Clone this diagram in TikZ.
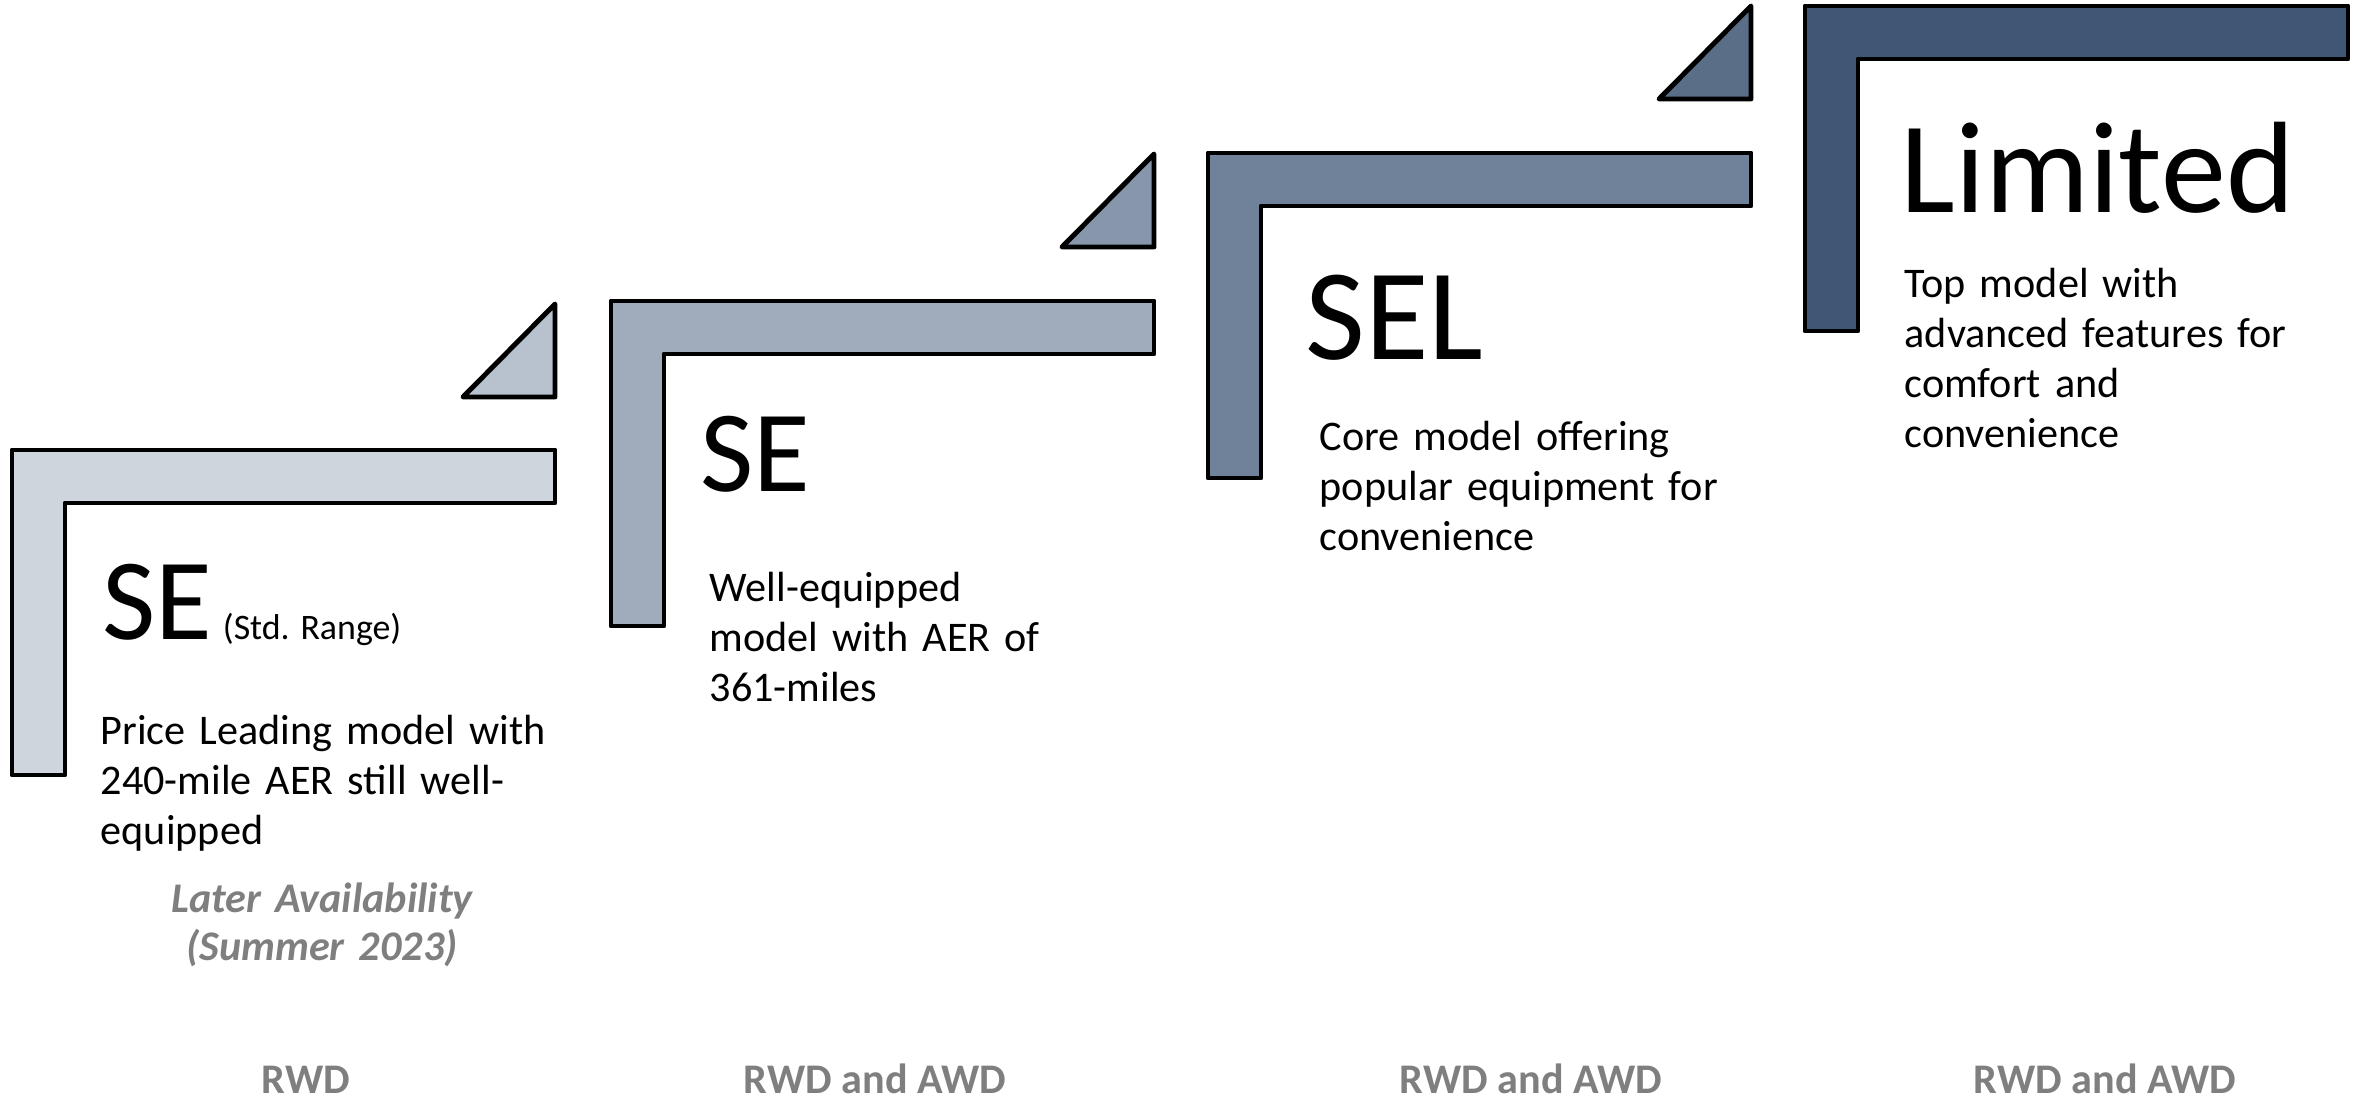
\documentclass[tikz,border=0pt]{standalone}
\usepackage{fontspec}
\setmainfont{Carlito}
\usetikzlibrary{positioning}
\definecolor{stepone}{HTML}{CFD5DD}
\definecolor{triaone}{HTML}{B8C2CE}
\definecolor{steptwo}{HTML}{A0ACBB}
\definecolor{triatwo}{HTML}{8796AA}
\definecolor{stepthree}{HTML}{6F829A}
\definecolor{triathree}{HTML}{5A6E88}
\definecolor{stepfour}{HTML}{3F5775}
\definecolor{drivegray}{HTML}{7F7F7F}

\begin{document}
\begin{tikzpicture}[x=0.01cm, y=-0.01cm,
    stairs/.style={draw=black, line width=1.4pt, line join=round},
    trimname/.style={anchor=base west, inner sep=0pt, font=\fontsize{33}{40}\selectfont},
    bigname/.style={anchor=base west, inner sep=0pt, font=\fontsize{37}{44}\selectfont},
    blurb/.style={anchor=base west, inner sep=0pt, text width=6cm, align=left, font=\fontsize{12}{14.2}\selectfont},
    drive/.style={anchor=base, inner sep=0pt, text depth=0pt, text=drivegray, font=\bfseries\fontsize{12}{14.2}\selectfont}]
    \useasboundingbox (0,0) rectangle (2359,1101);

    % Steps
    \draw [stairs, fill=stepone] (12,450) -- ++(543,0) -- ++(0,53) -- ++(-490,0) -- ++(0,272) -- ++(-53,0) -- cycle;
    \draw [stairs, fill=triaone] (463,397) -- (555,304) -- (555,397) -- cycle;
    \draw [stairs, fill=steptwo] (611,301) -- ++(543,0) -- ++(0,53) -- ++(-490,0) -- ++(0,272) -- ++(-53,0) -- cycle;
    \draw [stairs, fill=triatwo] (1062,247) -- (1154,154) -- (1154,247) -- cycle;
    \draw [stairs, fill=stepthree] (1208,153) -- ++(543,0) -- ++(0,53) -- ++(-490,0) -- ++(0,272) -- ++(-53,0) -- cycle;
    \draw [stairs, fill=triathree] (1659,99) -- (1751,6) -- (1751,99) -- cycle;
    \draw [stairs, fill=stepfour] (1805,6) -- ++(543,0) -- ++(0,53) -- ++(-490,0) -- ++(0,272) -- ++(-53,0) -- cycle;

    % Trim names
    \node (se) [trimname] at (102,640) {SE};
    \node (std) [right=2.5pt of se.base east, anchor=base west, inner sep=0pt, font=\fontsize{10.2}{12}\selectfont] {(Std. Range)};
    \node (seplus) [trimname] at (700,492) {SE};
    \node (sel) [bigname] at (1305,360) {SEL};
    \node (lim) [bigname] at (1900,213) {Limited};

    % Descriptions
    \node (sedesc) [blurb] at (100,745) {Price Leading model with\\240-mile AER still well-\\equipped};
    \node (later) [anchor=base, inner sep=0pt, text width=4cm, align=center, text=drivegray, font=\bfseries\itshape\fontsize{12}{13.4}\selectfont] at (322,913) {Later Availability\\(Summer 2023)};
    \node (seplusdesc) [blurb] at (709,602) {Well-equipped\\model with AER of\\361-miles};
    \node (seldesc) [blurb] at (1319,451) {Core model offering\\popular equipment for\\convenience};
    \node (limdesc) [blurb] at (1904,298) {Top model with\\advanced features for\\comfort and\\convenience};

    % Drivetrains
    \node (drvse) [drive] at (306,1094) {RWD};
    \node (drvseplus) [drive] at (875,1094) {RWD and AWD};
    \node (drvsel) [drive] at (1531,1094) {RWD and AWD};
    \node (drvlim) [drive] at (2105,1094) {RWD and AWD};
\end{tikzpicture}
\end{document}
